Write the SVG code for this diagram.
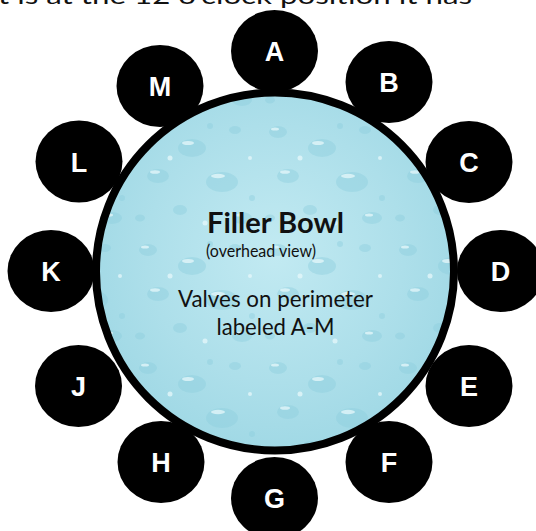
<svg xmlns="http://www.w3.org/2000/svg" width="536" height="531" viewBox="0 0 536 531">
  <style>
    .valve { fill: #000000; }
    .vlabel { fill: #ffffff; font-family: "Liberation Sans", Arial, sans-serif; font-weight: bold; font-size: 27px; text-anchor: middle; }
    .bowltxt { fill: #111111; font-family: Lato, "Open Sans", sans-serif; }
    .d { fill: #8fcfdf; opacity: 0.45; }
    .h { fill: #e6f8fb; opacity: 0.75; }
  </style>
  <defs>
    <radialGradient id="water" cx="50%" cy="45%" r="60%">
      <stop offset="0" stop-color="#c2eaf2"/>
      <stop offset="0.6" stop-color="#addfea"/>
      <stop offset="1" stop-color="#9dd7e4"/>
    </radialGradient>
    <pattern id="drops" width="130" height="118" patternUnits="userSpaceOnUse">
      <ellipse class="d" cx="18" cy="14" rx="9" ry="6"/>
      <ellipse class="h" cx="15" cy="11" rx="4" ry="1.6"/>
      <ellipse class="d" cx="62" cy="30" rx="14" ry="9"/>
      <ellipse class="h" cx="58" cy="25" rx="6" ry="2"/>
      <ellipse class="d" cx="105" cy="12" rx="6" ry="4"/>
      <ellipse class="d" cx="28" cy="58" rx="11" ry="7"/>
      <ellipse class="h" cx="25" cy="54" rx="5" ry="1.8"/>
      <ellipse class="d" cx="92" cy="64" rx="16" ry="10"/>
      <ellipse class="h" cx="88" cy="58" rx="7" ry="2.2"/>
      <ellipse class="d" cx="50" cy="92" rx="7" ry="5"/>
      <ellipse class="d" cx="112" cy="100" rx="10" ry="6"/>
      <ellipse class="h" cx="109" cy="97" rx="4" ry="1.5"/>
      <ellipse class="d" cx="10" cy="100" rx="5" ry="3.5"/>
      <circle class="h" cx="40" cy="40" r="2.5"/>
      <circle class="h" cx="120" cy="40" r="2"/>
      <circle class="h" cx="75" cy="105" r="2.5"/>
      <circle class="d" cx="80" cy="8" r="3"/>
      <circle class="d" cx="122" cy="80" r="3"/>
    </pattern>
  </defs>

  <text x="-2" y="4" class="bowltxt" font-size="24" textLength="474" lengthAdjust="spacingAndGlyphs">t is at the 12 o’clock position it has</text>

  <g id="valve-A"><ellipse class="valve" cx="274.5" cy="51" rx="43.5" ry="41"/><text class="vlabel" x="274.5" y="61">A</text></g>
  <g id="valve-B"><ellipse class="valve" cx="389" cy="82" rx="43.5" ry="41"/><text class="vlabel" x="389" y="92">B</text></g>
  <g id="valve-C"><ellipse class="valve" cx="469" cy="162" rx="43.5" ry="41"/><text class="vlabel" x="469" y="172">C</text></g>
  <g id="valve-D"><ellipse class="valve" cx="500.5" cy="271" rx="43.5" ry="41"/><text class="vlabel" x="500.5" y="281">D</text></g>
  <g id="valve-E"><ellipse class="valve" cx="469" cy="386" rx="43.5" ry="41"/><text class="vlabel" x="469" y="396">E</text></g>
  <g id="valve-F"><ellipse class="valve" cx="389" cy="462" rx="43.5" ry="41"/><text class="vlabel" x="389" y="472">F</text></g>
  <g id="valve-G"><ellipse class="valve" cx="274.5" cy="498" rx="43.5" ry="41"/><text class="vlabel" x="274.5" y="508">G</text></g>
  <g id="valve-H"><ellipse class="valve" cx="161" cy="462" rx="43.5" ry="41"/><text class="vlabel" x="161" y="472">H</text></g>
  <g id="valve-J"><ellipse class="valve" cx="78.5" cy="386" rx="43.5" ry="41"/><text class="vlabel" x="78.5" y="396">J</text></g>
  <g id="valve-K"><ellipse class="valve" cx="51" cy="271" rx="43.5" ry="41"/><text class="vlabel" x="51" y="281">K</text></g>
  <g id="valve-L"><ellipse class="valve" cx="79" cy="161.5" rx="43.5" ry="41"/><text class="vlabel" x="79" y="171.5">L</text></g>
  <g id="valve-M"><ellipse class="valve" cx="160" cy="86" rx="43.5" ry="41"/><text class="vlabel" x="160" y="96">M</text></g>

  <g id="filler-bowl">
    <circle cx="275" cy="271.5" r="179" fill="url(#water)"/>
    <circle cx="275" cy="271.5" r="179" fill="url(#drops)"/>
    <circle cx="275" cy="271.5" r="179" fill="none" stroke="#000000" stroke-width="8"/>
    <text class="bowltxt" x="207" y="232.5" font-size="29" font-weight="bold" textLength="137" lengthAdjust="spacingAndGlyphs">Filler Bowl</text>
    <text class="bowltxt" x="206" y="257" font-size="17.5" textLength="110" lengthAdjust="spacingAndGlyphs">(overhead view)</text>
    <text class="bowltxt" x="178" y="306.5" font-size="23" textLength="195" lengthAdjust="spacingAndGlyphs">Valves on perimeter</text>
    <text class="bowltxt" x="216.5" y="335" font-size="23" textLength="118" lengthAdjust="spacingAndGlyphs">labeled A-M</text>
  </g>
</svg>
